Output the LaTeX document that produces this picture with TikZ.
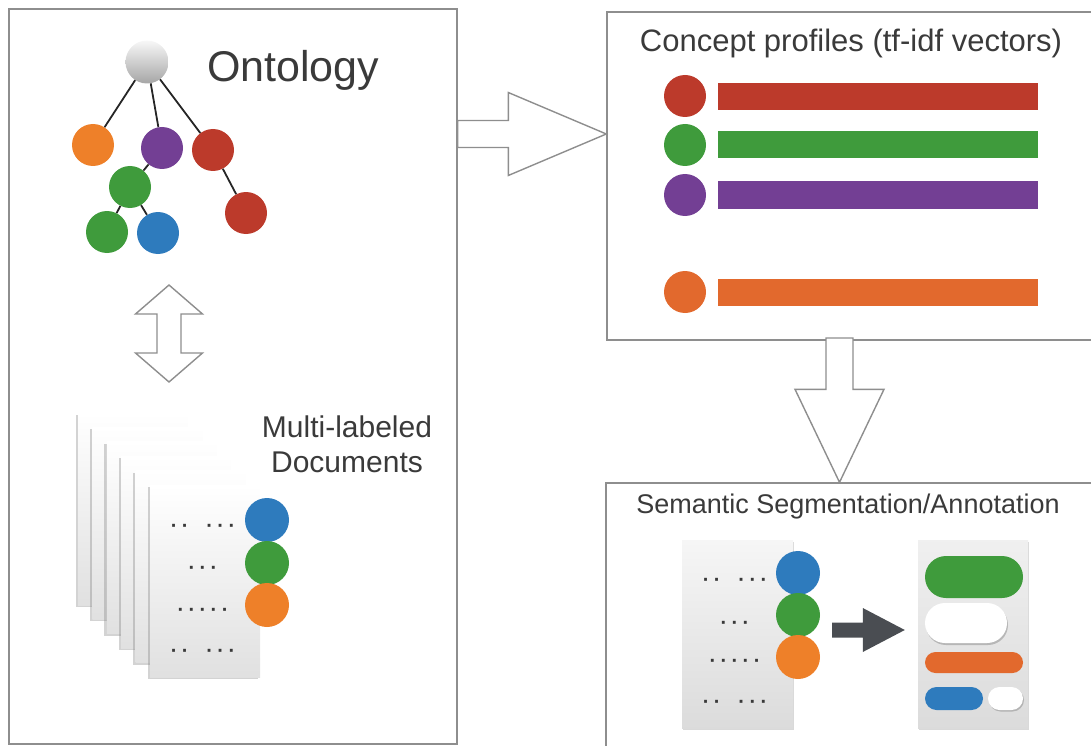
\documentclass[tikz,border=0pt]{standalone}
\usepackage{fontspec}
\setmainfont{Liberation Sans}
\newfontfamily\dotfont[LetterSpace=22,WordSpace=1.8]{Liberation Sans}
\usetikzlibrary{calc,shapes.misc,shadows}

\definecolor{cRed}{HTML}{BC3A2B}
\definecolor{cGreen}{HTML}{3F9B3C}
\definecolor{cPurple}{HTML}{733F94}
\definecolor{cOrange}{HTML}{EE8029}
\definecolor{cOrangeDeep}{HTML}{E2692D}
\definecolor{cBlue}{HTML}{2E7BBD}
\definecolor{frame}{HTML}{8E8E8E}
\definecolor{ink}{HTML}{3A3A3A}
\definecolor{darkarrow}{HTML}{4A4D52}

% hollow block arrow: style, from, to, shaft half-width, head half-width, head length
\newcommand\hollowarrow[6]{%
  \coordinate (hb) at ($(#3)!#6!(#2)$);
  \path[#1] ($(#2)!#4!90:(#3)$) -- ($(hb)!#4!90:(#3)$) -- ($(hb)!#5!90:(#3)$)
    -- (#3) -- ($(hb)!#5!-90:(#3)$) -- ($(hb)!#4!-90:(#3)$) -- ($(#2)!#4!-90:(#3)$) -- cycle;}
% hollow block arrow with a head at both ends
\newcommand\hollowdouble[6]{%
  \coordinate (ha) at ($(#2)!#6!(#3)$);
  \coordinate (hb) at ($(#3)!#6!(#2)$);
  \path[#1] (#2) -- ($(ha)!#5!90:(#3)$) -- ($(ha)!#4!90:(#3)$) -- ($(hb)!#4!90:(#3)$)
    -- ($(hb)!#5!90:(#3)$) -- (#3) -- ($(hb)!#5!-90:(#3)$) -- ($(hb)!#4!-90:(#3)$)
    -- ($(ha)!#4!-90:(#3)$) -- ($(ha)!#5!-90:(#3)$) -- cycle;}

\begin{document}
\begin{tikzpicture}[x=1pt,y=-1pt,
  panel/.style={draw=frame, line width=1.4pt, rectangle, inner sep=0pt},
  ball/.style={circle, inner sep=0pt, minimum size=42pt},
  bar/.style={rectangle, inner sep=0pt, minimum height=27pt, minimum width=320pt},
  treeedge/.style={draw=black!85, line width=1.8pt},
  hollow/.style={draw=frame, line width=1.4pt, fill=white, line join=miter},
  solidarrow/.style={fill=darkarrow},
  title/.style={text=ink, inner sep=0pt},
  sheet/.style={rectangle, inner sep=0pt, minimum width=110pt, minimum height=192pt,
    top color=white, bottom color=gray!24,
    drop shadow={shadow xshift=-2.5pt, shadow yshift=-2pt, opacity=.35, fill=gray}},
  page/.style={rectangle, inner sep=0pt, minimum width=111pt, minimum height=188pt,
    top color=gray!7, bottom color=gray!28,
    drop shadow={shadow xshift=1pt, shadow yshift=-1.5pt, opacity=.3, fill=gray}},
  dots/.style={text=gray!45!black, inner sep=0pt,
    font=\dotfont\fontsize{20}{20}\selectfont\bfseries},
  pill/.style={rounded rectangle, inner sep=0pt},
]
\useasboundingbox (0,0) rectangle (1091,746);
\clip (0,0) rectangle (1091,746);

% ---------- panels ----------
\node[panel, minimum width=448pt, minimum height=735pt] (onto) at (233,376.5) {};
\node[panel, minimum width=500pt, minimum height=328pt] (concept) at (857,176) {};
\node[panel, minimum width=500pt, minimum height=290pt] (segm) at (856,628) {};

% ---------- ontology tree ----------
\node[title, anchor=base west, font=\fontsize{43}{43}\selectfont] at (207,82) {Ontology};
\node[ball, minimum size=43pt, top color=gray!6, bottom color=gray!70] (root) at (147,62) {};
\node[ball, fill=cOrange] (o1) at (93,145) {};
\node[ball, fill=cPurple] (p1) at (162,148) {};
\node[ball, fill=cRed]    (r1) at (213,150) {};
\node[ball, fill=cGreen]  (g1) at (130,187) {};
\node[ball, fill=cRed]    (r2) at (246,213) {};
\node[ball, fill=cGreen]  (g2) at (107,232) {};
\node[ball, fill=cBlue]   (b1) at (158,233) {};
\draw[treeedge] (root) -- (o1);
\draw[treeedge] (root) -- (p1);
\draw[treeedge] (root) -- (r1);
\draw[treeedge] (p1) -- (g1);
\draw[treeedge] (g1) -- (g2);
\draw[treeedge] (g1) -- (b1);
\draw[treeedge] (r1) -- (r2);

% ---------- tree <-> documents ----------
\coordinate (up) at (169,285);
\coordinate (down) at (169,382);
\hollowdouble{hollow}{up}{down}{12pt}{33.5pt}{29pt}

% ---------- stack of labelled documents ----------
\foreach \i in {0,...,5}
  \node[sheet] (sh\i) at ({133+14.4*\i},{509+14.4*\i}) {};
\node[dots] at (203,528) {·· ···};
\node[dots] at (203,570) {···};
\node[dots] at (203,612) {·····};
\node[dots] at (203,653) {·· ···};
\node[ball, minimum size=44pt, fill=cBlue]   (db) at (267,520) {};
\node[ball, minimum size=44pt, fill=cGreen]  (dg) at (267,563) {};
\node[ball, minimum size=44pt, fill=cOrange] (do) at (267,605) {};
\node[title, align=center, font=\fontsize{30}{35}\selectfont, anchor=base]
  at (347,472) {Multi-labeled\\Documents};

% ---------- ontology -> concept profiles ----------
\coordinate (ra) at (onto.east |- 0,134);
\coordinate (rb) at (concept.west |- 0,134);
\hollowarrow{hollow}{ra}{rb}{13.5pt}{41.5pt}{98pt}

% ---------- concept profiles ----------
\node[title, anchor=base, font=\fontsize{31}{31}\selectfont] at (851,52) {Concept profiles (tf-idf vectors)};
\node[ball, fill=cRed]        (cr) at (685,96) {};
\node[ball, fill=cGreen]      (cg) at (685,145) {};
\node[ball, fill=cPurple]     (cp) at (685,195) {};
\node[ball, fill=cOrangeDeep] (co) at (685,292) {};
\node[bar, fill=cRed]        (br) at (878,96.5) {};
\node[bar, fill=cGreen]      (bg) at (878,145) {};
\node[bar, fill=cPurple]     (bp) at (878,195) {};
\node[bar, fill=cOrangeDeep] (bo) at (878,292) {};

% ---------- concept profiles -> segmentation ----------
\coordinate (da) at (839.5,338);
\coordinate (db2) at (segm.north -| 839.5,0);
\hollowarrow{hollow}{da}{db2}{13.5pt}{44.5pt}{93pt}

% ---------- semantic segmentation / annotation ----------
\node[title, anchor=base, font=\fontsize{27}{27}\selectfont] at (848,513) {Semantic Segmentation/Annotation};
\node[page] (lp) at (737.5,634) {};
\node[dots] at (735,582) {·· ···};
\node[dots] at (735,625) {···};
\node[dots] at (735,663) {·····};
\node[dots] at (735,704) {·· ···};
\node[ball, minimum size=44pt, fill=cBlue]   (sb) at (798,573) {};
\node[ball, minimum size=44pt, fill=cGreen]  (sg) at (798,615) {};
\node[ball, minimum size=44pt, fill=cOrange] (so) at (798,657) {};

\node[page, minimum width=110pt, top color=gray!12] (rp) at (973,634) {};
\node[pill, fill=cGreen, minimum width=98pt, minimum height=42pt] (pg) at (974,577) {};
\node[pill, fill=white, minimum width=82pt, minimum height=40pt,
  drop shadow={shadow xshift=1pt, shadow yshift=-2pt, opacity=.45, fill=gray}] (pw) at (966,623) {};
\node[pill, fill=cOrangeDeep, minimum width=98pt, minimum height=21pt] (po) at (974,662.5) {};
\node[pill, fill=cBlue, minimum width=58pt, minimum height=23pt] (pb) at (954,698.5) {};
\node[pill, fill=white, minimum width=35pt, minimum height=23pt,
  drop shadow={shadow xshift=1pt, shadow yshift=-1.5pt, opacity=.45, fill=gray}] (pw2) at (1005.5,698.5) {};

% annotation step: labelled page -> segmented page
\coordinate (sa) at (832,630);
\coordinate (st) at ($(sa -| rp.west)+(-13,0)$);
\hollowarrow{solidarrow}{sa}{st}{7.5pt}{22pt}{42pt}
\end{tikzpicture}
\end{document}
